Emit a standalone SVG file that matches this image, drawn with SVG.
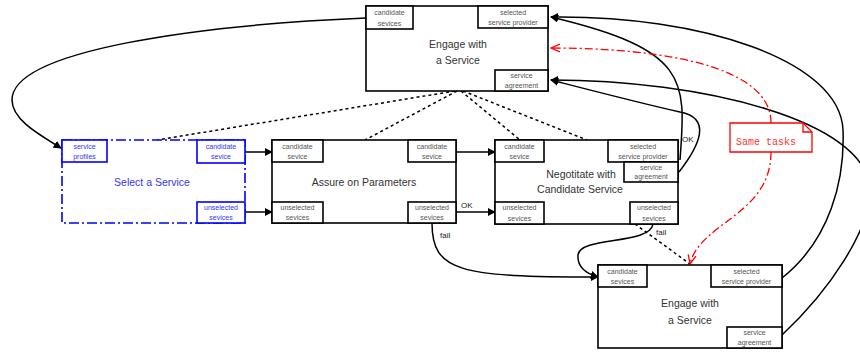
<svg xmlns="http://www.w3.org/2000/svg" width="860" height="352" viewBox="0 0 860 352">
  <style>
    .node { fill: #ffffff; stroke: #000000; stroke-width: 1.6; }
    .port { fill: #ffffff; stroke: #000000; stroke-width: 1.6; }
    .sel { fill: #ffffff; stroke: #0000ff; stroke-width: 1.6; stroke-dasharray: 10 3 2 3; }
    .selport { fill: #ffffff; stroke: #0000ff; stroke-width: 1.6; }
    .pl { font-family: "Liberation Sans", Arial, sans-serif; font-size: 7px; fill: #555555; text-anchor: middle; }
    .bl { fill: #3333ff; }
    .title { font-family: "Liberation Sans", Arial, sans-serif; font-size: 10.5px; fill: #333333; text-anchor: middle; }
    .edge { fill: none; stroke: #000000; stroke-width: 1.5; }
    .dot { fill: none; stroke: #000000; stroke-width: 1.5; stroke-dasharray: 3 3; }
    .red { fill: none; stroke: #ff0000; stroke-width: 1.3; stroke-dasharray: 8 3 2 3; }
    .lbl { font-family: "Liberation Sans", Arial, sans-serif; font-size: 8px; fill: #222222; }
  </style>
  <defs>
    <marker id="arr" viewBox="0 0 10 10" refX="9" refY="5" markerWidth="8" markerHeight="8" markerUnits="userSpaceOnUse" orient="auto">
      <path d="M0,0 L10,5 L0,10 z" fill="#000000"/>
    </marker>
    <marker id="open" viewBox="0 0 10 10" refX="9" refY="5" markerWidth="10" markerHeight="10" markerUnits="userSpaceOnUse" orient="auto">
      <path d="M0,1 L9,5 L0,9" fill="none" stroke="#ff0000" stroke-width="1.3"/>
    </marker>
  </defs>

  <!-- connectors -->
  <g id="connectors">
    <!-- dotted links from the upper engage task -->
    <path class="dot" d="M455 91 L157 140"/>
    <path class="dot" d="M457 91 L365 140"/>
    <path class="dot" d="M461 91 L520 140"/>
    <path class="dot" d="M463 91 L587 140"/>
    <path class="dot" d="M635 224 L690 264"/>

    <!-- service profiles loop -->
    <path class="edge" marker-end="url(#arr)" d="M366 18 C200 25 12 50 12 100 C12 120 40 135 61 148"/>

    <!-- select -> assure -->
    <path class="edge" marker-end="url(#arr)" d="M245 152 L272 152"/>
    <path class="edge" marker-end="url(#arr)" d="M245 212 L272 212"/>
    <!-- assure -> negotiate -->
    <path class="edge" marker-end="url(#arr)" d="M456 152 L495 152"/>
    <path class="edge" marker-end="url(#arr)" d="M456 212 L495 212"/>
    <text class="lbl" x="461" y="208">OK</text>

    <!-- fail branches -->
    <path class="edge" marker-end="url(#arr)" d="M432 223 C432 272 460 277 598 277"/>
    <text class="lbl" x="440" y="238">fail</text>
    <path class="edge" marker-end="url(#arr)" d="M653 224 C650 245 580 236 578 255 C577 268 588 274 598 277"/>
    <text class="lbl" x="656" y="235">fail</text>

    <!-- negotiate -> upper engage -->
    <path class="edge" marker-end="url(#arr)" d="M680 160 C686 80 690 50 551 17"/>
    <path class="edge" marker-end="url(#arr)" d="M679 172 C700 145 712 118 680 112 C640 103 590 90 551 80"/>
    <text class="lbl" x="682" y="142">OK</text>

    <!-- lower engage -> upper engage -->
    <path class="edge" marker-end="url(#arr)" d="M782 278 C830 240 845 180 843 130 C840 60 700 15 551 17"/>
    <path class="edge" marker-end="url(#arr)" d="M782 335 C830 290 870 230 870 190 C868 120 700 80 551 80"/>

    <!-- same tasks annotation links -->
    <path class="red" marker-end="url(#open)" d="M771 123 C771 60 640 48 551 48"/>
    <path class="red" marker-end="url(#open)" d="M771 152 C771 215 700 222 690 264"/>
  </g>

  <!-- upper engage task -->
  <g id="engage-top">
    <rect class="node" x="366" y="6" width="182" height="85"/>
    <rect class="port" x="366" y="6" width="47" height="23"/>
    <text class="pl" x="389.5" y="15">candidate</text>
    <text class="pl" x="389.5" y="26">sevices</text>
    <rect class="port" x="478" y="6" width="70" height="22"/>
    <text class="pl" x="513" y="15">selected</text>
    <text class="pl" x="513" y="25">service provider</text>
    <rect class="port" x="495" y="70" width="53" height="21"/>
    <text class="pl" x="521.5" y="78">service</text>
    <text class="pl" x="521.5" y="88">agreement</text>
    <text class="title" x="458" y="48">Engage with</text>
    <text class="title" x="458" y="64">a Service</text>
  </g>

  <!-- select task -->
  <g id="select">
    <rect class="sel" x="62" y="140" width="183" height="83"/>
    <rect class="selport" x="62" y="140" width="45" height="22"/>
    <text class="pl bl" x="84.5" y="149">service</text>
    <text class="pl bl" x="84.5" y="159">profiles</text>
    <rect class="selport" x="197" y="140" width="48" height="23"/>
    <text class="pl bl" x="221" y="149">candidate</text>
    <text class="pl bl" x="221" y="159">sevice</text>
    <rect class="selport" x="197" y="202" width="48" height="21"/>
    <text class="pl bl" x="221" y="210">unselected</text>
    <text class="pl bl" x="221" y="220">sevices</text>
    <text class="title" x="152" y="186" style="fill:#3333ff">Select a Service</text>
  </g>

  <!-- assure task -->
  <g id="assure">
    <rect class="node" x="272" y="140" width="184" height="83"/>
    <rect class="port" x="272" y="140" width="51" height="22"/>
    <text class="pl" x="297.5" y="149">candidate</text>
    <text class="pl" x="297.5" y="159">sevice</text>
    <rect class="port" x="408" y="140" width="48" height="22"/>
    <text class="pl" x="432" y="149">candidate</text>
    <text class="pl" x="432" y="159">sevice</text>
    <rect class="port" x="272" y="202" width="51" height="21"/>
    <text class="pl" x="297.5" y="210">unselected</text>
    <text class="pl" x="297.5" y="220">sevices</text>
    <rect class="port" x="408" y="202" width="48" height="21"/>
    <text class="pl" x="432" y="210">unselected</text>
    <text class="pl" x="432" y="220">sevices</text>
    <text class="title" x="364" y="186">Assure on Parameters</text>
  </g>

  <!-- negotiate task -->
  <g id="negotiate">
    <rect class="node" x="495" y="140" width="183" height="84"/>
    <rect class="port" x="495" y="140" width="49" height="22"/>
    <text class="pl" x="519.5" y="149">candidate</text>
    <text class="pl" x="519.5" y="159">sevice</text>
    <rect class="port" x="608" y="140" width="70" height="22"/>
    <text class="pl" x="643" y="149">selected</text>
    <text class="pl" x="643" y="159">service provider</text>
    <rect class="port" x="624" y="162" width="54" height="20"/>
    <text class="pl" x="651" y="170">service</text>
    <text class="pl" x="651" y="179">agreement</text>
    <rect class="port" x="495" y="202" width="49" height="22"/>
    <text class="pl" x="519.5" y="210">unselected</text>
    <text class="pl" x="519.5" y="221">sevices</text>
    <rect class="port" x="630" y="202" width="48" height="22"/>
    <text class="pl" x="654" y="210">unselected</text>
    <text class="pl" x="654" y="221">sevices</text>
    <text class="title" x="581" y="178">Negotitate with</text>
    <text class="title" x="580" y="193">Candidate Service</text>
  </g>

  <!-- lower engage task -->
  <g id="engage-bottom">
    <rect class="node" x="598" y="265" width="184" height="83"/>
    <rect class="port" x="598" y="265" width="49" height="22"/>
    <text class="pl" x="622.5" y="274">candidate</text>
    <text class="pl" x="622.5" y="284">sevices</text>
    <rect class="port" x="711" y="265" width="71" height="22"/>
    <text class="pl" x="746.5" y="274">selected</text>
    <text class="pl" x="746.5" y="284">service provider</text>
    <rect class="port" x="727" y="327" width="55" height="21"/>
    <text class="pl" x="754.5" y="335">service</text>
    <text class="pl" x="754.5" y="345">agreement</text>
    <text class="title" x="690" y="307">Engage with</text>
    <text class="title" x="690" y="324">a Service</text>
  </g>

  <!-- annotation note -->
  <g id="note">
    <path d="M730 123 L803 123 L812 132 L812 152 L730 152 Z" fill="#ffffff" stroke="#ff0000" stroke-width="1.3"/>
    <path d="M803 123 L803 132 L812 132" fill="none" stroke="#ff0000" stroke-width="1.3"/>
    <text x="736" y="145" style="font-family:'Liberation Mono','Courier New',monospace;font-size:10px;fill:#ff3333">Same tasks</text>
  </g>
</svg>
